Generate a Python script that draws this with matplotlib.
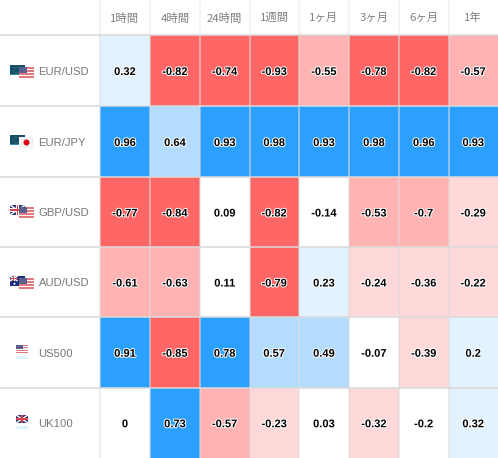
import matplotlib
matplotlib.use("Agg")
import matplotlib.pyplot as plt
import matplotlib.patheffects as pe
from matplotlib.patches import Rectangle, Circle

# data
periods = ["1時間", "4時間", "24時間", "1週間", "1ヶ月", "3ヶ月", "6ヶ月", "1年"]
symbols = ["EUR/USD", "EUR/JPY", "GBP/USD", "AUD/USD", "US500", "UK100"]
eur_usd = [0.32, -0.82, -0.74, -0.93, -0.55, -0.78, -0.82, -0.57]
eur_jpy = [0.96, 0.64, 0.93, 0.98, 0.93, 0.98, 0.96, 0.93]
gbp_usd = [-0.77, -0.84, 0.09, -0.82, -0.14, -0.53, -0.7, -0.29]
aud_usd = [-0.61, -0.63, 0.11, -0.79, 0.23, -0.24, -0.36, -0.22]
us500 = [0.91, -0.85, 0.78, 0.57, 0.49, -0.07, -0.39, 0.2]
uk100 = [0, 0.73, -0.57, -0.23, 0.03, -0.32, -0.2, 0.32]
rows = [eur_usd, eur_jpy, gbp_usd, aud_usd, us500, uk100]

x_edges = [100, 150, 200, 249.5, 299, 349, 399, 448.5, 498]
y_edges = [35, 106, 177, 247, 317, 387.5, 458]

jp = ["Noto Sans CJK JP", "DejaVu Sans"]


def cell_color(v):
    if v >= 0.7:
        return "#2ca0ff"
    if v >= 0.4:
        return "#b3dcff"
    if v >= 0.2:
        return "#e3f2ff"
    if v >= -0.2:
        return "#ffffff"
    if v >= -0.5:
        return "#ffd9d9"
    if v >= -0.7:
        return "#ffb3b3"
    return "#ff6666"


def rect(ax, x, y, w, h, c, z=5):
    ax.add_patch(Rectangle((x, y), w, h, fc=c, ec="none", zorder=z))


def flag_us(ax, x, y, w=15, h=11, z=6):
    rect(ax, x, y, w, h, "#ffffff", z)
    for i in range(0, 7, 2):
        rect(ax, x, y + i * h / 7, w, h / 7, "#e4787f", z)
    rect(ax, x, y, w * 0.55, h * 0.55, "#5a5f8c", z)


def flag_eu(ax, x, y, w=15, h=10, z=6):
    rect(ax, x, y, w, h, "#14506e", z)
    rect(ax, x, y + h - 1, w, 1, "#2c8fb0", z)
    ax.add_patch(Circle((x + w * 0.45, y + h * 0.5), 3, fc="none", ec="#b5a642", lw=0.4, ls=":", zorder=z))


def flag_jp(ax, x, y, w=15, h=11, z=6):
    rect(ax, x, y, w, h, "#f4f4f4", z)
    ax.add_patch(Circle((x + w / 2, y + h / 2), 3, fc="#e00010", ec="none", zorder=z + 1))


def flag_uk(ax, x, y, w=12, h=8, z=6):
    rect(ax, x, y, w, h, "#2d3a78", z)
    ax.plot([x, x + w], [y, y + h], color="#ffffff", lw=1.0, zorder=z, solid_capstyle="butt")
    ax.plot([x, x + w], [y + h, y], color="#ffffff", lw=1.0, zorder=z, solid_capstyle="butt")
    rect(ax, x, y + h / 2 - h * 0.18, w, h * 0.36, "#ffffff", z)
    rect(ax, x + w / 2 - h * 0.18, y, h * 0.36, h, "#ffffff", z)
    rect(ax, x, y + h / 2 - h * 0.09, w, h * 0.18, "#d8404a", z)
    rect(ax, x + w / 2 - h * 0.09, y, h * 0.18, h, "#d8404a", z)


def flag_au(ax, x, y, w=15, h=10, z=6):
    rect(ax, x, y, w, h, "#1f2f80", z)
    flag_uk(ax, x, y, w * 0.5, h * 0.5, z)
    ax.add_patch(Circle((x + w * 0.3, y + h * 0.78), 1, fc="#ffffff", ec="none", zorder=z))


fig = plt.figure(figsize=(4.98, 4.58), dpi=100)
ax = fig.add_axes([0, 0, 1, 1])
ax.set_xlim(0, 498)
ax.set_ylim(458, 0)
ax.axis("off")

# celdas
for i, row in enumerate(rows):
    for j, v in enumerate(row):
        ax.add_patch(Rectangle((x_edges[j], y_edges[i]), x_edges[j + 1] - x_edges[j],
                               y_edges[i + 1] - y_edges[i], fc=cell_color(v), ec="none", zorder=1))
        ax.text((x_edges[j] + x_edges[j + 1]) / 2, (y_edges[i] + y_edges[i + 1]) / 2 + 1.5, str(v),
                ha="center", va="center", fontsize=8, fontweight="bold", family="Liberation Sans",
                color="#000000", zorder=4,
                path_effects=[pe.withStroke(linewidth=1.4, foreground="#ffffff")])

# lineas de la grilla
for x in x_edges[:-1]:
    ax.plot([x, x], [0, 35], color="#f2f2f2", lw=1.2, zorder=2)
    ax.plot([x, x], [35, 458], color="#dcdcdc", lw=1.1, alpha=0.7, zorder=2)
for y in y_edges[:-1]:
    ax.plot([0, 498], [y, y], color="#dadada", lw=1.1, zorder=2)

# encabezados
for j, p in enumerate(periods):
    ax.text((x_edges[j] + x_edges[j + 1]) / 2, 18, p, ha="center", va="center",
            fontsize=8.2, family=jp, color="#808080")

# etiquetas de fila
for i, s in enumerate(symbols):
    ax.text(38.5, (y_edges[i] + y_edges[i + 1]) / 2 + 1.5, s, ha="left", va="center",
            fontsize=8.1, family="Liberation Sans", color="#777777")

# banderas
flag_eu(ax, 10, 65)
flag_us(ax, 19, 67)
flag_eu(ax, 10, 135)
flag_jp(ax, 19, 137)
flag_uk(ax, 10, 205, 15, 10)
flag_us(ax, 19, 207)
flag_au(ax, 10, 276)
flag_us(ax, 19, 278)
flag_us(ax, 16, 345, 12, 8)
ax.text(22, 358, "US500", ha="center", va="center", fontsize=3, family="Liberation Sans", color="#8fdcf5")
flag_uk(ax, 16, 415)
ax.text(22, 428, "UK100", ha="center", va="center", fontsize=3, family="Liberation Sans", color="#8fdcf5")

fig.savefig("out.png", dpi=100)
